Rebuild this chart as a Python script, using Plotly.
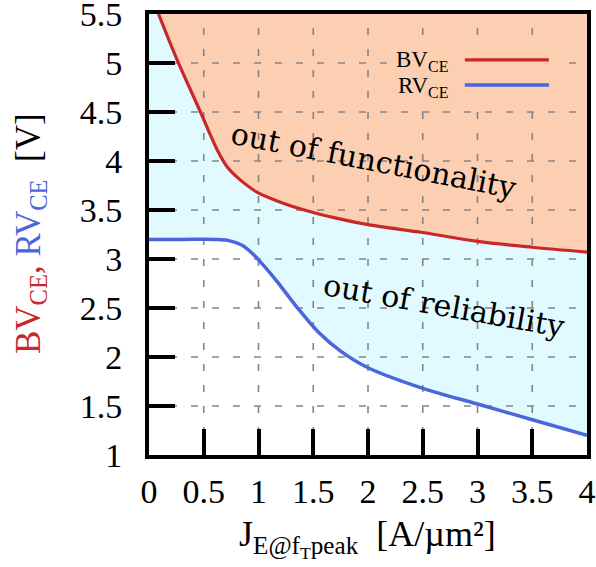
import plotly.graph_objects as go

# Breakdown voltage (BVCE) and reliability limit (RVCE) vs emitter current density
bv_x = [0.087, 0.25, 0.47, 0.62, 0.72, 0.83, 0.99, 1.2, 1.45, 1.7, 2.0, 2.5, 3.0, 3.5, 4.0]
bv_y = [5.5, 5.05, 4.5, 4.12, 3.93, 3.81, 3.68, 3.58, 3.49, 3.42, 3.35, 3.27, 3.18, 3.12, 3.07]

rv_x = [0, 0.3, 0.6, 0.72, 0.85, 0.95, 1.05, 1.17, 1.35, 1.55, 1.75, 2.0, 2.5, 3.0, 3.5, 4.0]
rv_y = [3.2, 3.2, 3.2, 3.19, 3.14, 3.05, 2.93, 2.77, 2.51, 2.25, 2.06, 1.89, 1.68, 1.52, 1.36, 1.20]

x_ticks = [0, 0.5, 1, 1.5, 2, 2.5, 3, 3.5, 4]
x_labels = ["0", "0.5", "1", "1.5", "2", "2.5", "3", "3.5", "4"]
y_ticks = [1, 1.5, 2, 2.5, 3, 3.5, 4, 4.5, 5, 5.5]
y_labels = ["1", "1.5", "2", "2.5", "3", "3.5", "4", "4.5", "5", "5.5"]

X_MIN, X_MAX = 0, 4
Y_MIN, Y_MAX = 1, 5.5

RED = "#c8282a"
BLUE = "#4a66dc"
CYAN = "#e0faff"
SALMON = "#fdcfb2"
GRID = "#858585"
SERIF = "Liberation Serif, Times New Roman, serif"

fig = go.Figure()

# cyan band: above RVCE up to the top of the plot
fig.add_trace(go.Scatter(x=[X_MIN, X_MAX], y=[Y_MAX, Y_MAX], mode="lines",
                         line=dict(width=0), hoverinfo="skip", showlegend=False))
fig.add_trace(go.Scatter(x=rv_x, y=rv_y, mode="lines", fill="tonexty", fillcolor=CYAN,
                         line=dict(width=0, shape="spline", smoothing=0.9),
                         hoverinfo="skip", showlegend=False))
# salmon band: above BVCE
fig.add_trace(go.Scatter(x=[bv_x[0], X_MAX], y=[Y_MAX, Y_MAX], mode="lines",
                         line=dict(width=0), hoverinfo="skip", showlegend=False))
fig.add_trace(go.Scatter(x=bv_x, y=bv_y, mode="lines", fill="tonexty", fillcolor=SALMON,
                         line=dict(width=0, shape="spline", smoothing=0.9),
                         hoverinfo="skip", showlegend=False))

# dashed grid drawn over the shaded bands
gx, gy = [], []
for t in x_ticks[1:-1]:
    gx += [t, t, None]
    gy += [Y_MIN, Y_MAX, None]
for t in y_ticks[1:-1]:
    gx += [X_MIN, X_MAX, None]
    gy += [t, t, None]
fig.add_trace(go.Scatter(x=gx, y=gy, mode="lines",
                         line=dict(color=GRID, width=1.6, dash="7px,14px"),
                         hoverinfo="skip", showlegend=False))

# the two limit curves
fig.add_trace(go.Scatter(x=bv_x, y=bv_y, mode="lines", name="BV<sub>CE</sub>",
                         line=dict(color=RED, width=3.2, shape="spline", smoothing=0.9),
                         showlegend=False))
fig.add_trace(go.Scatter(x=rv_x, y=rv_y, mode="lines", name="RV<sub>CE</sub>",
                         line=dict(color=BLUE, width=3.5, shape="spline", smoothing=0.9),
                         showlegend=False))

axis_common = dict(showgrid=False, zeroline=False, showline=True, linecolor="black",
                   linewidth=4, mirror=True, ticks="inside", ticklen=26, tickwidth=3.5,
                   tickcolor="black", ticklabeloverflow="allow", automargin=False,
                   tickfont=dict(family=SERIF, size=34, color="black"))

fig.update_xaxes(range=[X_MIN, X_MAX], tickvals=x_ticks, ticktext=x_labels,
                 ticklabelstandoff=3, **axis_common)
fig.update_yaxes(range=[Y_MIN, Y_MAX], tickvals=y_ticks, ticktext=y_labels,
                 ticklabelstandoff=16, **axis_common)

# legend box (key text right, line samples left)
shapes = [
    dict(type="rect", xref="paper", yref="paper", x0=0.543, x1=0.938, y0=0.787, y1=0.937,
         fillcolor=SALMON, line=dict(width=0), layer="above"),
    dict(type="line", xref="paper", yref="paper", x0=0.721, x1=0.913, y0=0.896, y1=0.896,
         line=dict(color=RED, width=3.2), layer="above"),
    dict(type="line", xref="paper", yref="paper", x0=0.721, x1=0.913, y0=0.839, y1=0.839,
         line=dict(color=BLUE, width=3.5), layer="above"),
]

annotations = [
    dict(xref="paper", yref="paper", x=0.69, y=0.893, text="BV<sub>CE</sub>",
         showarrow=False, xanchor="right", yanchor="middle",
         font=dict(family=SERIF, size=23, color="black")),
    dict(xref="paper", yref="paper", x=0.69, y=0.835, text="RV<sub>CE</sub>",
         showarrow=False, xanchor="right", yanchor="middle",
         font=dict(family=SERIF, size=23, color="black")),
    dict(x=2.05, y=4.01, text="out of functionality", showarrow=False, textangle=11,
         font=dict(family="DejaVu Serif", size=30, color="black")),
    dict(x=2.69, y=2.53, text="out of reliability", showarrow=False, textangle=10,
         font=dict(family="DejaVu Serif", size=30, color="black")),
    # y-axis title
    dict(xref="paper", yref="paper", x=-0.272, y=0.503, textangle=-90,
         xanchor="center", yanchor="middle", showarrow=False,
         text=(f'<span style="color:{RED}">BV<sub>CE</sub>,</span> '
               f'<span style="color:{BLUE}">RV<sub>CE</sub></span>  [V]'),
         font=dict(family=SERIF, size=35, color="black")),
    # x-axis title
    dict(xref="paper", yref="paper", x=0.498, y=-0.19,
         xanchor="center", yanchor="middle", showarrow=False,
         text="J<sub>E@f<sub>T</sub>peak</sub>  [A/µm²]",
         font=dict(family=SERIF, size=36, color="black")),
]

fig.update_layout(width=596, height=567, margin=dict(l=149, r=9, t=14, b=112),
                  paper_bgcolor="white", plot_bgcolor="white",
                  shapes=shapes, annotations=annotations, showlegend=False)

fig.write_html("out.html")
